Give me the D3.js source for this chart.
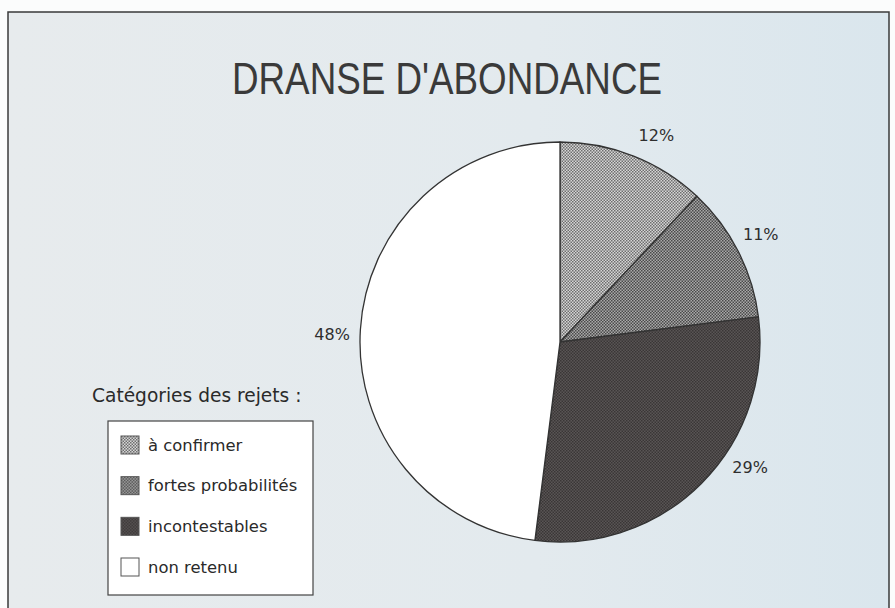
<!DOCTYPE html>
<html>
<head>
<meta charset="utf-8">
<script src="https://cdnjs.cloudflare.com/ajax/libs/d3/7.8.5/d3.min.js"></script>
<style>
  body { margin: 0; background: #fbfcfc; }
  svg { display: block; }
</style>
</head>
<body>
<div id="canvas"></div>
<script>
var categories = ["à confirmer", "fortes probabilités", "incontestables", "non retenu"]
var values = [12, 11, 29, 48]
var title = "DRANSE D'ABONDANCE"
var legendTitle = "Catégories des rejets :"

var width = 895
var height = 608
var cx = 560
var cy = 342
var radius = 200

// slice fills: base colour + dot colour for the halftone look
var fills = [
    { base: "#d6d6d6", dot: "#6e6e6e" },
    { base: "#a9a9a9", dot: "#4a4a4a" },
    { base: "#595555", dot: "#3a3636" },
    { base: "#ffffff", dot: null }
]
// small angle tweaks (degrees) so labels sit like the original
var labelNudge = [3.4, -1.3, -11.5, -1.6]
var labelRadius = 228

var svg = d3.select("#canvas")
    .append("svg")
    .attr("width", width)
    .attr("height", height)

var defs = svg.append("defs")

var grad = defs.append("linearGradient")
    .attr("id", "paper")
    .attr("x1", "0").attr("x2", "1").attr("y1", "0").attr("y2", "0")
grad.append("stop").attr("offset", "0%").attr("stop-color", "#e7ebed")
grad.append("stop").attr("offset", "60%").attr("stop-color", "#e3eaee")
grad.append("stop").attr("offset", "100%").attr("stop-color", "#dae6ed")

fills.forEach(function (f, i) {
    if (!f.dot) return
    var p = defs.append("pattern")
        .attr("id", "dots" + i)
        .attr("width", 3)
        .attr("height", 3)
        .attr("patternUnits", "userSpaceOnUse")
    p.append("rect").attr("width", 3).attr("height", 3).attr("fill", f.base)
    p.append("rect").attr("width", 1.5).attr("height", 1.5).attr("fill", f.dot)
    p.append("rect").attr("x", 1.5).attr("y", 1.5).attr("width", 1.5).attr("height", 1.5).attr("fill", f.dot)
})

function fillOf(i) {
    return fills[i].dot ? "url(#dots" + i + ")" : fills[i].base
}

// paper + frame (bottom edge runs off the page)
svg.append("rect")
    .attr("x", 8)
    .attr("y", 12)
    .attr("width", 881)
    .attr("height", 620)
    .attr("fill", "url(#paper)")
    .attr("stroke", "#3a3a3a")
    .attr("stroke-width", 1.5)

svg.append("text")
    .attr("x", 447)
    .attr("y", 94)
    .attr("text-anchor", "middle")
    .attr("font-family", "Liberation Sans, Arial, sans-serif")
    .attr("font-size", 45)
    .attr("textLength", 430)
    .attr("lengthAdjust", "spacingAndGlyphs")
    .attr("fill", "#3a3a3a")
    .text(title)

var pie = d3.pie().sort(null).value(function (d) { return d })
var arcs = pie(values)
var arc = d3.arc().innerRadius(0).outerRadius(radius)

var g = svg.append("g").attr("transform", `translate(${cx},${cy})`)

g.selectAll(".slice")
    .data(arcs)
    .enter()
    .append("path")
    .attr("class", "slice")
    .attr("d", arc)
    .attr("fill", function (d, i) { return fillOf(i) })
    .attr("stroke", "#333")
    .attr("stroke-width", 1.3)
    .attr("stroke-linejoin", "round")

g.selectAll(".pct")
    .data(arcs)
    .enter()
    .append("text")
    .attr("class", "pct")
    .attr("transform", function (d, i) {
        var a = (d.startAngle + d.endAngle) / 2 + labelNudge[i] * Math.PI / 180
        var p = d3.pointRadial(a, labelRadius)
        return `translate(${p[0]},${p[1]})`
    })
    .attr("text-anchor", "middle")
    .attr("dy", "0.35em")
    .attr("font-family", "DejaVu Sans, Verdana, sans-serif")
    .attr("font-size", 16)
    .attr("fill", "#2e2e2e")
    .text(function (d) { return d.data + "%" })

// legend
svg.append("text")
    .attr("x", 92)
    .attr("y", 402)
    .attr("font-family", "DejaVu Sans, Verdana, sans-serif")
    .attr("font-size", 18.6)
    .attr("fill", "#2a2a2a")
    .text(legendTitle)

var legend = svg.append("g").attr("transform", "translate(108,421)")

legend.append("rect")
    .attr("width", 205)
    .attr("height", 174)
    .attr("fill", "#ffffff")
    .attr("stroke", "#444")
    .attr("stroke-width", 1.2)

var rowY = d3.scalePoint().domain(categories).range([24, 146])

var items = legend.selectAll(".item")
    .data(categories)
    .enter()
    .append("g")
    .attr("class", "item")
    .attr("transform", function (d) { return `translate(13,${rowY(d)})` })

items.append("rect")
    .attr("x", 0)
    .attr("y", -9)
    .attr("width", 18)
    .attr("height", 18)
    .attr("fill", function (d, i) { return fillOf(i) })
    .attr("stroke", "#555")
    .attr("stroke-width", 1)

items.append("text")
    .attr("x", 27)
    .attr("y", 0)
    .attr("dy", "0.35em")
    .attr("font-family", "DejaVu Sans, Verdana, sans-serif")
    .attr("font-size", 16.4)
    .attr("fill", "#2a2a2a")
    .text(function (d) { return d })
</script>
</body>
</html>
